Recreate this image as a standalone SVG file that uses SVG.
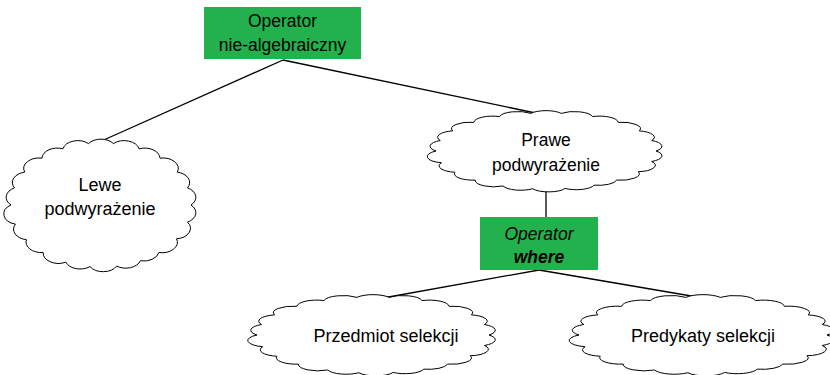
<svg xmlns="http://www.w3.org/2000/svg" xmlns:xlink="http://www.w3.org/1999/xlink" width="830" height="375" viewBox="0 0 830 375">
<style>
.box{fill:#22b14c;stroke:none}
.cl{fill:#fff;stroke:#000;stroke-width:1;vector-effect:non-scaling-stroke}
.t{font-family:"Liberation Sans",Arial,sans-serif;font-size:17.5px;fill:#000;text-anchor:middle}
.c{font-size:18px}
.it{font-style:italic}
.bi{font-style:italic;font-weight:bold}
.ln{stroke:#000;stroke-width:1.3;fill:none}
</style>
<defs>
<path id="cloud" class="cl" d="M100,0 A17,17 0 0 1 96.1,27.6 A17,17 0 0 1 83.9,54.5 A17,17 0 0 1 64.3,76.6 A17,17 0 0 1 43.8,89.9 A17,17 0 0 1 17.4,98.5 A17,17 0 0 1 -12.2,99.3 A17,17 0 0 1 -39.1,92.1 A17,17 0 0 1 -64.3,76.6 A17,17 0 0 1 -82.9,55.9 A17,17 0 0 1 -95.1,30.9 A17,17 0 0 1 -100,0 A17,17 0 0 1 -96.1,-27.6 A17,17 0 0 1 -84.8,-53 A17,17 0 0 1 -65.6,-75.5 A17,17 0 0 1 -42.3,-90.6 A17,17 0 0 1 -13.9,-99 A17,17 0 0 1 13.9,-99 A17,17 0 0 1 42.3,-90.6 A17,17 0 0 1 65.6,-75.5 A17,17 0 0 1 84.8,-53 A17,17 0 0 1 96.1,-27.6 A17,17 0 0 1 100,0 Z"/>
</defs>
<g id="connectors">
<line class="ln" x1="283" y1="60" x2="97" y2="143"/>
<line class="ln" x1="283" y1="60" x2="545" y2="115"/>
<line class="ln" x1="546" y1="190" x2="546" y2="217"/>
<line class="ln" x1="539" y1="270" x2="383" y2="298"/>
<line class="ln" x1="539" y1="270" x2="703" y2="298"/>
</g>
<g id="op-nie-algebraiczny">
<rect class="box" x="204" y="7" width="157" height="52"/>
<text class="t" x="282.5" y="27">Operator</text>
<text class="t" x="282.5" y="51">nie-algebraiczny</text>
</g>
<g id="lewe">
<use xlink:href="#cloud" transform="translate(101,205) scale(0.90,0.62)"/>
<text class="t c" x="100" y="191">Lewe</text>
<text class="t c" x="100" y="215">podwyrażenie</text>
</g>
<g id="prawe">
<use xlink:href="#cloud" transform="translate(546,151) scale(1.1,0.38)"/>
<text class="t" x="546" y="146">Prawe</text>
<text class="t" x="546" y="171">podwyrażenie</text>
</g>
<g id="op-where">
<rect class="box" x="480" y="217" width="118" height="53"/>
<text class="t it" x="539" y="240">Operator</text>
<text class="t bi" x="539" y="263">where</text>
</g>
<g id="przedmiot">
<use xlink:href="#cloud" transform="translate(373,335) scale(1.16,0.38)"/>
<text class="t c" x="386" y="342">Przedmiot selekcji</text>
</g>
<g id="predykaty">
<use xlink:href="#cloud" transform="translate(703,335) scale(1.24,0.38)"/>
<text class="t c" x="703" y="342">Predykaty selekcji</text>
</g>
</svg>
